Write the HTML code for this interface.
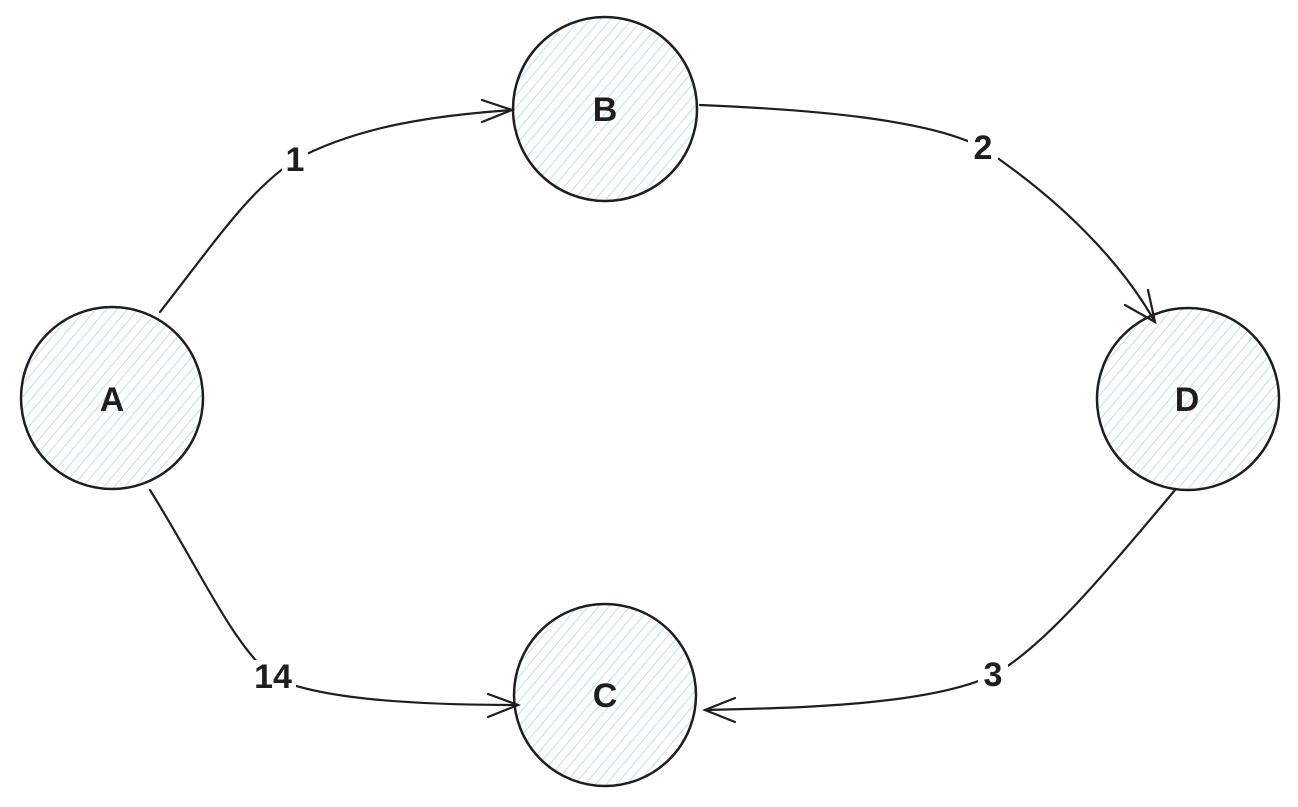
<!DOCTYPE html>
<html><head><meta charset="utf-8"><style>
html,body{margin:0;padding:0;background:#fff;}
svg{display:block}
text{font-family:"Liberation Sans",sans-serif;font-size:34px;font-weight:bold;fill:#1e1e1e;text-anchor:middle;dominant-baseline:central}
</style></head><body>
<svg width="1298" height="807" viewBox="0 0 1298 807">
<defs>
<pattern id="h" width="8" height="8" patternUnits="userSpaceOnUse" patternTransform="rotate(40)">
<line x1="0" y1="0" x2="0" y2="8" stroke="#a5d8ff" stroke-width="1.6"/>
</pattern>
</defs>
<g stroke="#1e1e1e" stroke-width="2.5" fill="url(#h)">
<circle cx="112" cy="398" r="91"/>
<circle cx="605" cy="109" r="92"/>
<circle cx="1188" cy="399" r="91"/>
<circle cx="605" cy="695" r="91"/>
</g>
<g stroke="#1e1e1e" stroke-width="2.2" fill="none" stroke-linecap="round">
<path d="M160 312 C220 235 250 190 295 160 C360 125 440 115 512 110"/>
<path d="M482 100 L512 110 L482 122"/>
<path d="M700 105 C820 110 930 120 983 148 C1060 200 1120 260 1155 322"/>
<path d="M1125 305 L1155 322 L1148 290"/>
<path d="M1175 490 C1100 580 1040 650 993 675 C930 705 800 708 705 710"/>
<path d="M735 698 L705 710 L735 722"/>
<path d="M150 490 C200 570 230 640 272 677 C320 700 420 705 518 705"/>
<path d="M488 694 L518 705 L488 717"/>
</g>
<g fill="#fff">
<rect x="282" y="143" width="26" height="34"/>
<rect x="968" y="131" width="30" height="34"/>
<rect x="978" y="658" width="30" height="34"/>
<rect x="250" y="660" width="46" height="34"/>
</g>
<text x="112" y="400">A</text>
<text x="605" y="110">B</text>
<text x="605" y="696">C</text>
<text x="1187" y="400">D</text>
<text x="295" y="160">1</text>
<text x="983" y="148">2</text>
<text x="993" y="675">3</text>
<text x="273" y="677">14</text>
</svg>
</body></html>
